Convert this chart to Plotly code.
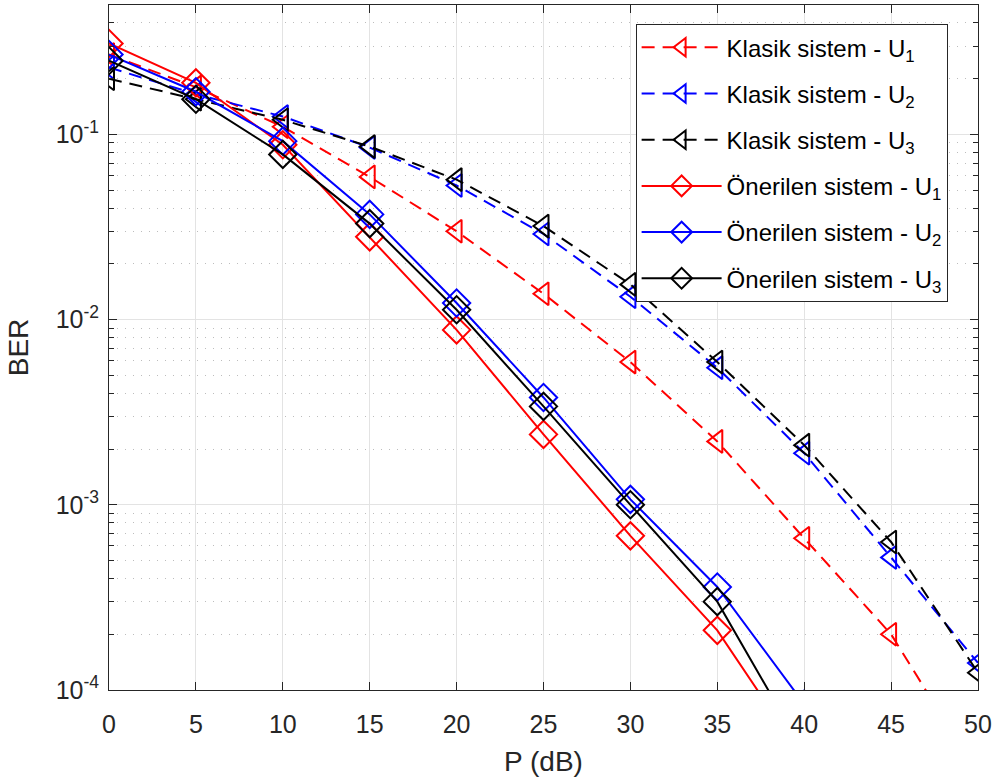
import plotly.graph_objects as go

P = [0, 5, 10, 15, 20, 25, 30, 35, 40, 45, 50]

klasik_u1 = [0.27, 0.18, 0.11, 0.059, 0.030, 0.0138, 0.0059, 0.0022, 0.00066, 0.00020, 0.000035]
klasik_u2 = [0.23, 0.165, 0.125, 0.085, 0.053, 0.029, 0.0133, 0.0055, 0.0019, 0.00052, 0.00014]
klasik_u3 = [0.20, 0.155, 0.12, 0.086, 0.057, 0.032, 0.0155, 0.0059, 0.0021, 0.00063, 0.000124]

P_oner = [0, 5, 10, 15, 20, 25, 30, 35, 40]
oner_u1 = [0.31, 0.19, 0.088, 0.028, 0.0088, 0.0024, 0.00068, 0.00021, 0.000042]
oner_u2 = [0.27, 0.17, 0.092, 0.037, 0.0123, 0.0038, 0.00107, 0.00036, 0.000084]
oner_u3 = [0.25, 0.155, 0.078, 0.033, 0.0113, 0.0034, 0.0010, 0.00030, 0.000046]

names_k = ["Klasik sistem - U<sub>1</sub>", "Klasik sistem - U<sub>2</sub>", "Klasik sistem - U<sub>3</sub>"]
names_o = ["Önerilen sistem - U<sub>1</sub>", "Önerilen sistem - U<sub>2</sub>", "Önerilen sistem - U<sub>3</sub>"]
colors = ["#ff0000", "#0000ff", "#000000"]

fig = go.Figure()
i = 0
for name, ys, c in zip(names_k, [klasik_u1, klasik_u2, klasik_u3], colors):
    fig.add_trace(go.Scatter(
        x=P, y=ys, name=name, mode="lines+markers", legendgroup=f"g{i}",
        line=dict(color=c, width=2, dash="13px,8px"),
        marker=dict(symbol="triangle-left-open", size=20, color=c, line=dict(width=2, color=c)),
    ))
    i += 1
for name, ys, c in zip(names_o, [oner_u1, oner_u2, oner_u3], colors):
    fig.add_trace(go.Scatter(
        x=P_oner, y=ys, name=name, mode="lines+markers", legendgroup=f"g{i}",
        line=dict(color=c, width=2),
        marker=dict(symbol="diamond-open", size=21, color=c, line=dict(width=2, color=c)),
    ))
    i += 1

axis_col = "#262626"
fig.update_layout(
    width=1002, height=784,
    margin=dict(l=109, r=24, t=5, b=94),
    paper_bgcolor="white", plot_bgcolor="white",
    font=dict(family="Liberation Sans, Arial, sans-serif", size=25, color=axis_col),
    showlegend=True,
    legend=dict(
        x=0.606, y=0.972, xanchor="left", yanchor="top",
        bgcolor="white", bordercolor=axis_col, borderwidth=1,
        font=dict(size=24, color="black"),
        itemwidth=80, tracegroupgap=12,
    ),
)
fig.update_xaxes(
    range=[0, 50], dtick=5, tick0=0,
    ticks="inside", ticklen=8, tickcolor=axis_col,
    showline=True, linecolor=axis_col, linewidth=1, mirror="ticks",
    showgrid=True, gridcolor="#e3e3e3", gridwidth=1, zeroline=False,
    title=dict(text="P (dB)", font=dict(size=28), standoff=14),
    tickfont=dict(size=25), ticklabelstandoff=12,
)
fig.update_yaxes(
    type="log", range=[-4, -0.30103],
    tickvals=[1e-4, 1e-3, 1e-2, 1e-1],
    ticktext=["10<sup>-4</sup>", "10<sup>-3</sup>", "10<sup>-2</sup>", "10<sup>-1</sup>"],
    ticks="inside", ticklen=8, tickcolor=axis_col,
    showline=True, linecolor=axis_col, linewidth=1, mirror="ticks",
    showgrid=True, gridcolor="#e3e3e3", gridwidth=1, zeroline=False,
    minor=dict(dtick="D1", ticks="inside", ticklen=5, tickcolor=axis_col,
               showgrid=True, gridcolor="#bdbdbd", griddash="1px,7px", gridwidth=1),
    title=dict(text="BER", font=dict(size=28), standoff=18),
    tickfont=dict(size=25), ticklabelstandoff=4,
)

fig.write_html("out.html")
